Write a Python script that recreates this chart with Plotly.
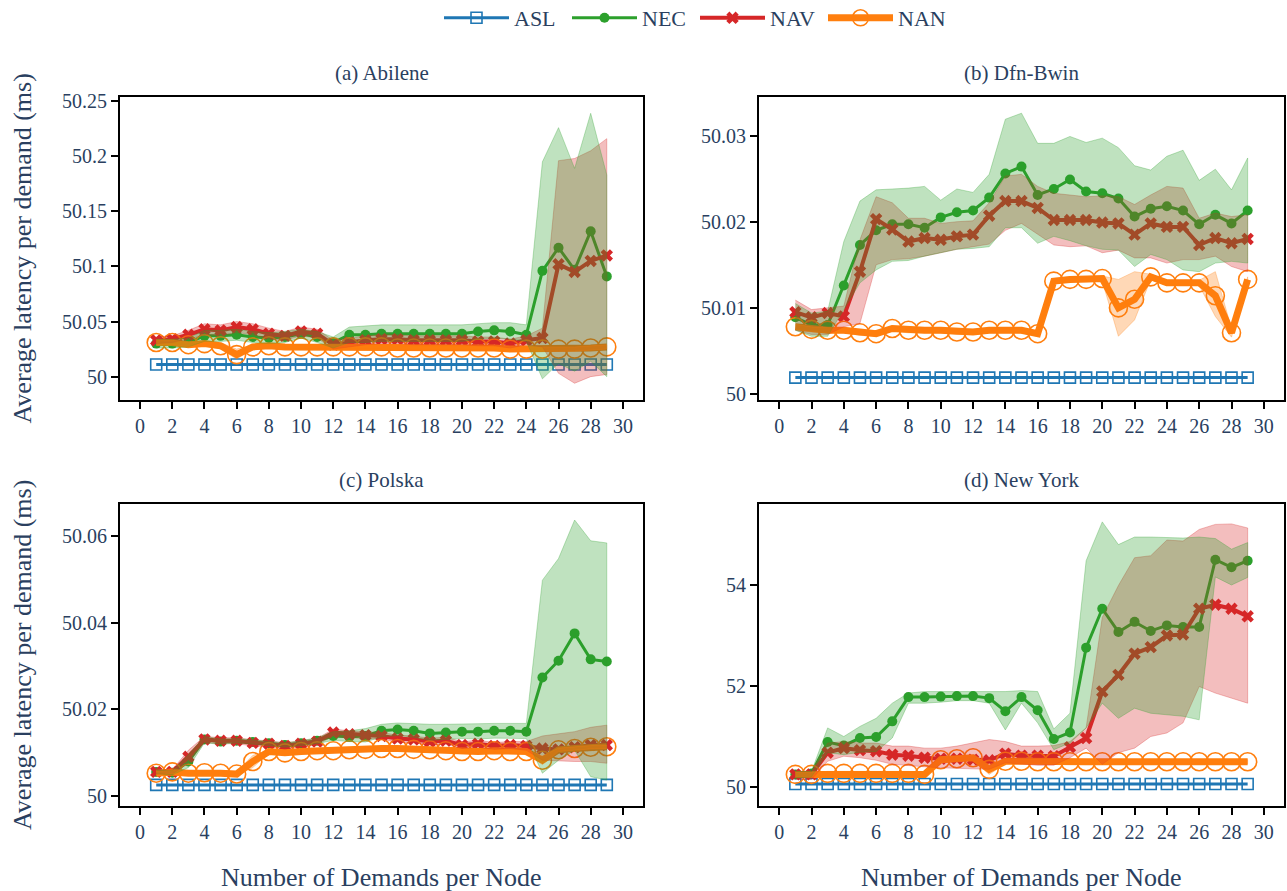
import plotly.graph_objects as go

# ---------------------------------------------------------------- data
X = list(range(1, 30))
X_TICKS = list(range(0, 31, 2))
X_TICK_TEXT = [str(v) for v in X_TICKS]

SERIES = ["ASL", "NEC", "NAV", "NAN"]
COLORS = {"ASL": "#1f77b4", "NEC": "#2ca02c", "NAV": "#d62728", "NAN": "#ff7f0e"}
BAND_RGB = {"NEC": "44,160,44", "NAV": "214,39,40", "NAN": "255,127,14"}

PANEL_TITLES = ["(a) Abilene", "(b) Dfn-Bwin", "(c) Polska", "(d) New York"]

# (a) Abilene
ABL_Y_TICKS = [50, 50.05, 50.1, 50.15, 50.2, 50.25]
ABL_Y_TEXT = ["50", "50.05", "50.1", "50.15", "50.2", "50.25"]
ABL_ASL = [50.011, 50.011, 50.011, 50.011, 50.011, 50.011, 50.011, 50.011, 50.011, 50.011,
           50.011, 50.011, 50.011, 50.011, 50.011, 50.011, 50.011, 50.011, 50.011, 50.011,
           50.011, 50.011, 50.011, 50.011, 50.011, 50.011, 50.011, 50.011, 50.011]
ABL_NEC = [50.030, 50.030, 50.031, 50.037, 50.037, 50.038, 50.036, 50.035, 50.036, 50.039,
           50.036, 50.031, 50.038, 50.038, 50.039, 50.039, 50.039, 50.039, 50.039, 50.039,
           50.041, 50.042, 50.041, 50.038, 50.096, 50.117, 50.097, 50.132, 50.091]
ABL_NEC_HI = [50.034, 50.034, 50.035, 50.042, 50.042, 50.043, 50.041, 50.040, 50.041, 50.043,
              50.041, 50.036, 50.045, 50.046, 50.047, 50.047, 50.047, 50.047, 50.047, 50.047,
              50.048, 50.049, 50.049, 50.047, 50.195, 50.226, 50.189, 50.239, 50.183]
ABL_NEC_LO = [50.026, 50.026, 50.027, 50.032, 50.032, 50.033, 50.031, 50.030, 50.031, 50.035,
              50.031, 50.026, 50.031, 50.031, 50.032, 50.032, 50.032, 50.032, 50.032, 50.032,
              50.034, 50.035, 50.034, 50.032, 49.998, 50.012, 50.005, 50.014, 50.000]
ABL_NAV = [50.033, 50.034, 50.038, 50.043, 50.042, 50.045, 50.043, 50.039, 50.037, 50.041,
           50.039, 50.029, 50.031, 50.033, 50.034, 50.034, 50.033, 50.033, 50.033, 50.033,
           50.032, 50.032, 50.030, 50.033, 50.035, 50.102, 50.095, 50.105, 50.110]
ABL_NAV_HI = [50.036, 50.037, 50.042, 50.048, 50.047, 50.050, 50.048, 50.044, 50.041, 50.045,
              50.043, 50.033, 50.035, 50.037, 50.038, 50.038, 50.037, 50.037, 50.037, 50.037,
              50.036, 50.036, 50.034, 50.037, 50.044, 50.196, 50.198, 50.205, 50.216]
ABL_NAV_LO = [50.030, 50.031, 50.034, 50.038, 50.037, 50.040, 50.038, 50.034, 50.033, 50.037,
              50.035, 50.025, 50.027, 50.029, 50.030, 50.030, 50.029, 50.029, 50.029, 50.029,
              50.028, 50.028, 50.026, 50.029, 50.027, 50.003, 49.994, 50.000, 50.002]
ABL_NAN = [50.031, 50.031, 50.029, 50.030, 50.028, 50.020, 50.027, 50.028, 50.027, 50.027,
           50.027, 50.027, 50.027, 50.027, 50.027, 50.026, 50.026, 50.026, 50.026, 50.026,
           50.026, 50.026, 50.025, 50.025, 50.025, 50.025, 50.025, 50.026, 50.027]
ABL_NAN_HI = [50.033, 50.033, 50.031, 50.032, 50.031, 50.025, 50.029, 50.030, 50.029, 50.029,
              50.029, 50.029, 50.029, 50.029, 50.029, 50.028, 50.028, 50.028, 50.028, 50.028,
              50.028, 50.028, 50.027, 50.027, 50.027, 50.027, 50.027, 50.028, 50.029]
ABL_NAN_LO = [50.029, 50.029, 50.027, 50.028, 50.025, 50.016, 50.025, 50.026, 50.025, 50.025,
              50.025, 50.025, 50.025, 50.025, 50.025, 50.024, 50.024, 50.024, 50.024, 50.024,
              50.024, 50.024, 50.023, 50.023, 50.023, 50.023, 50.023, 50.024, 50.025]

# (b) Dfn-Bwin
DFN_Y_TICKS = [50, 50.01, 50.02, 50.03]
DFN_Y_TEXT = ["50", "50.01", "50.02", "50.03"]
DFN_ASL = [50.0019, 50.0019, 50.0019, 50.0019, 50.0019, 50.0019, 50.0019, 50.0019, 50.0019, 50.0019,
           50.0019, 50.0019, 50.0019, 50.0019, 50.0019, 50.0019, 50.0019, 50.0019, 50.0019, 50.0019,
           50.0019, 50.0019, 50.0019, 50.0019, 50.0019, 50.0019, 50.0019, 50.0019, 50.0019]
DFN_NEC = [50.0089, 50.0080, 50.0080, 50.0126, 50.0173, 50.0190, 50.0197, 50.0197, 50.0193, 50.0205,
           50.0211, 50.0213, 50.0228, 50.0256, 50.0264, 50.0231, 50.0238, 50.0249, 50.0235, 50.0233,
           50.0227, 50.0206, 50.0215, 50.0218, 50.0213, 50.0197, 50.0208, 50.0198, 50.0213]
DFN_NEC_HI = [50.0105, 50.0094, 50.0096, 50.0177, 50.0224, 50.0237, 50.0238, 50.0239, 50.0241, 50.0225,
              50.0238, 50.0234, 50.0255, 50.0319, 50.0326, 50.0291, 50.0291, 50.0299, 50.0292, 50.0297,
              50.0286, 50.0265, 50.0260, 50.0276, 50.0283, 50.0248, 50.0261, 50.0237, 50.0274]
DFN_NEC_LO = [50.0074, 50.0067, 50.0067, 50.0098, 50.0129, 50.0144, 50.0154, 50.0155, 50.0160, 50.0164,
              50.0168, 50.0169, 50.0171, 50.0193, 50.0193, 50.0175, 50.0183, 50.0178, 50.0172, 50.0168,
              50.0167, 50.0148, 50.0162, 50.0156, 50.0144, 50.0142, 50.0152, 50.0154, 50.0152]
DFN_NAV = [50.0095, 50.0089, 50.0094, 50.0090, 50.0142, 50.0203, 50.0191, 50.0177, 50.0181, 50.0179,
           50.0183, 50.0185, 50.0207, 50.0224, 50.0224, 50.0216, 50.0202, 50.0202, 50.0202, 50.0199,
           50.0198, 50.0185, 50.0198, 50.0194, 50.0194, 50.0173, 50.0181, 50.0175, 50.0180]
DFN_NAV_HI = [50.0109, 50.0098, 50.0100, 50.0102, 50.0179, 50.0229, 50.0222, 50.0204, 50.0204, 50.0198,
              50.0200, 50.0201, 50.0222, 50.0253, 50.0255, 50.0241, 50.0233, 50.0231, 50.0229, 50.0230,
              50.0229, 50.0220, 50.0231, 50.0241, 50.0239, 50.0204, 50.0210, 50.0206, 50.0208]
DFN_NAV_LO = [50.0074, 50.0069, 50.0069, 50.0078, 50.0082, 50.0150, 50.0156, 50.0157, 50.0160, 50.0164,
              50.0168, 50.0171, 50.0174, 50.0190, 50.0198, 50.0185, 50.0173, 50.0171, 50.0172, 50.0164,
              50.0167, 50.0158, 50.0158, 50.0152, 50.0156, 50.0156, 50.0160, 50.0148, 50.0142]
DFN_NAN = [50.0078, 50.0075, 50.0074, 50.0074, 50.0071, 50.0070, 50.0076, 50.0074, 50.0074, 50.0074,
           50.0072, 50.0072, 50.0074, 50.0074, 50.0074, 50.0070, 50.0131, 50.0133, 50.0133, 50.0134,
           50.0100, 50.0110, 50.0136, 50.0129, 50.0129, 50.0129, 50.0114, 50.0071, 50.0133]
DFN_NAN_HI = [50.0081, 50.0078, 50.0077, 50.0077, 50.0074, 50.0073, 50.0079, 50.0077, 50.0077, 50.0077,
              50.0075, 50.0075, 50.0077, 50.0077, 50.0077, 50.0073, 50.0134, 50.0136, 50.0136, 50.0137,
              50.0133, 50.0142, 50.0139, 50.0132, 50.0132, 50.0132, 50.0142, 50.0076, 50.0136]
DFN_NAN_LO = [50.0075, 50.0072, 50.0071, 50.0071, 50.0068, 50.0067, 50.0073, 50.0071, 50.0071, 50.0071,
              50.0069, 50.0069, 50.0071, 50.0071, 50.0071, 50.0067, 50.0128, 50.0130, 50.0130, 50.0131,
              50.0067, 50.0086, 50.0133, 50.0126, 50.0126, 50.0126, 50.0090, 50.0066, 50.0130]

# (c) Polska
POL_Y_TICKS = [50, 50.02, 50.04, 50.06]
POL_Y_TEXT = ["50", "50.02", "50.04", "50.06"]
POL_ASL = [50.0025, 50.0025, 50.0025, 50.0025, 50.0025, 50.0025, 50.0025, 50.0025, 50.0025, 50.0025,
           50.0025, 50.0025, 50.0025, 50.0025, 50.0025, 50.0025, 50.0025, 50.0025, 50.0025, 50.0025,
           50.0025, 50.0025, 50.0025, 50.0025, 50.0025, 50.0025, 50.0025, 50.0025, 50.0025]
POL_NEC = [50.0055, 50.0053, 50.0079, 50.0130, 50.0125, 50.0127, 50.0124, 50.0121, 50.0117, 50.0121,
           50.0127, 50.0138, 50.0136, 50.0138, 50.0150, 50.0153, 50.0150, 50.0144, 50.0146, 50.0148,
           50.0148, 50.0150, 50.0150, 50.0148, 50.0273, 50.0312, 50.0375, 50.0315, 50.0310]
POL_NEC_HI = [50.0060, 50.0058, 50.0095, 50.0137, 50.0131, 50.0132, 50.0129, 50.0126, 50.0122, 50.0127,
              50.0134, 50.0148, 50.0150, 50.0155, 50.0165, 50.0168, 50.0166, 50.0165, 50.0165, 50.0166,
              50.0166, 50.0167, 50.0167, 50.0167, 50.0498, 50.0548, 50.0637, 50.0589, 50.0584]
POL_NEC_LO = [50.0050, 50.0048, 50.0065, 50.0122, 50.0119, 50.0122, 50.0119, 50.0116, 50.0112, 50.0116,
              50.0120, 50.0128, 50.0125, 50.0124, 50.0136, 50.0139, 50.0135, 50.0128, 50.0130, 50.0132,
              50.0131, 50.0133, 50.0133, 50.0132, 50.0052, 50.0082, 50.0105, 50.0044, 50.0036]
POL_NAV = [50.0055, 50.0055, 50.0090, 50.0130, 50.0127, 50.0127, 50.0122, 50.0120, 50.0115, 50.0120,
           50.0125, 50.0146, 50.0142, 50.0140, 50.0138, 50.0132, 50.0130, 50.0125, 50.0127, 50.0117,
           50.0120, 50.0115, 50.0117, 50.0115, 50.0109, 50.0107, 50.0112, 50.0117, 50.0117]
POL_NAV_HI = [50.0060, 50.0060, 50.0105, 50.0137, 50.0134, 50.0134, 50.0129, 50.0127, 50.0122, 50.0127,
              50.0132, 50.0154, 50.0150, 50.0148, 50.0146, 50.0140, 50.0138, 50.0133, 50.0135, 50.0125,
              50.0128, 50.0123, 50.0125, 50.0125, 50.0138, 50.0143, 50.0148, 50.0158, 50.0163]
POL_NAV_LO = [50.0050, 50.0050, 50.0075, 50.0123, 50.0120, 50.0120, 50.0115, 50.0113, 50.0108, 50.0113,
              50.0118, 50.0138, 50.0134, 50.0132, 50.0130, 50.0124, 50.0122, 50.0117, 50.0119, 50.0109,
              50.0112, 50.0107, 50.0109, 50.0105, 50.0082, 50.0080, 50.0079, 50.0079, 50.0075]
POL_NAN = [50.0052, 50.0055, 50.0052, 50.0053, 50.0052, 50.0050, 50.0079, 50.0102, 50.0099, 50.0102,
           50.0104, 50.0104, 50.0106, 50.0107, 50.0109, 50.0109, 50.0107, 50.0106, 50.0104, 50.0102,
           50.0102, 50.0104, 50.0102, 50.0102, 50.0082, 50.0106, 50.0109, 50.0112, 50.0113]
POL_NAN_HI = [50.0056, 50.0059, 50.0056, 50.0057, 50.0056, 50.0055, 50.0093, 50.0106, 50.0103, 50.0106,
              50.0108, 50.0108, 50.0110, 50.0111, 50.0113, 50.0113, 50.0111, 50.0110, 50.0108, 50.0106,
              50.0106, 50.0108, 50.0106, 50.0106, 50.0092, 50.0110, 50.0113, 50.0116, 50.0117]
POL_NAN_LO = [50.0048, 50.0051, 50.0048, 50.0049, 50.0048, 50.0046, 50.0065, 50.0098, 50.0095, 50.0098,
              50.0100, 50.0100, 50.0102, 50.0103, 50.0105, 50.0105, 50.0103, 50.0102, 50.0100, 50.0098,
              50.0098, 50.0100, 50.0098, 50.0098, 50.0072, 50.0102, 50.0105, 50.0108, 50.0109]

# (d) New York
NY_Y_TICKS = [50, 52, 54]
NY_Y_TEXT = ["50", "52", "54"]
NY_ASL = [50.06, 50.06, 50.06, 50.06, 50.06, 50.06, 50.06, 50.06, 50.06, 50.06,
          50.06, 50.06, 50.06, 50.06, 50.06, 50.06, 50.06, 50.06, 50.06, 50.06,
          50.06, 50.06, 50.06, 50.06, 50.06, 50.06, 50.06, 50.06, 50.06]
NY_NEC = [50.25, 50.27, 50.89, 50.82, 50.97, 50.99, 51.30, 51.78, 51.78, 51.79,
          51.80, 51.80, 51.76, 51.50, 51.78, 51.52, 50.95, 51.08, 52.76, 53.53,
          53.07, 53.27, 53.09, 53.20, 53.17, 53.17, 54.50, 54.35, 54.48]
NY_NEC_HI = [50.31, 50.31, 51.17, 51.00, 51.20, 51.36, 51.66, 51.86, 51.89, 51.89,
             51.90, 51.89, 51.89, 51.89, 51.91, 51.89, 51.15, 51.46, 54.48, 55.25,
             54.80, 54.95, 54.95, 54.94, 54.93, 54.95, 54.92, 54.71, 54.84]
NY_NEC_LO = [50.18, 50.20, 50.68, 50.64, 50.69, 50.70, 50.97, 51.66, 51.66, 51.68,
             51.71, 51.71, 51.66, 51.13, 51.66, 51.27, 50.74, 50.87, 51.17, 51.66,
             51.36, 51.56, 51.46, 51.43, 51.40, 51.33, 54.16, 54.00, 54.15]
NY_NAV = [50.25, 50.25, 50.68, 50.77, 50.73, 50.71, 50.64, 50.62, 50.58, 50.56,
          50.56, 50.54, 50.53, 50.66, 50.62, 50.62, 50.61, 50.79, 50.97, 51.89,
          52.22, 52.64, 52.77, 53.00, 53.02, 53.53, 53.61, 53.53, 53.38]
NY_NAV_HI = [50.31, 50.31, 50.87, 50.90, 50.87, 50.87, 50.81, 50.81, 50.77, 50.77,
             50.81, 50.87, 50.94, 50.90, 50.81, 50.81, 50.82, 50.90, 51.17, 53.36,
             53.99, 54.54, 54.58, 54.89, 54.87, 55.10, 55.20, 55.21, 55.13]
NY_NAV_LO = [50.15, 50.15, 50.51, 50.61, 50.58, 50.53, 50.45, 50.43, 50.40, 50.38,
             50.36, 50.36, 50.35, 50.48, 50.45, 50.43, 50.43, 50.58, 50.77, 50.45,
             50.68, 50.77, 51.00, 51.07, 51.27, 51.99, 51.86, 51.76, 51.66]
NY_NAN = [50.25, 50.25, 50.27, 50.27, 50.27, 50.27, 50.27, 50.27, 50.25, 50.54,
          50.56, 50.58, 50.35, 50.51, 50.51, 50.50, 50.50, 50.50, 50.50, 50.50,
          50.50, 50.50, 50.50, 50.50, 50.50, 50.50, 50.50, 50.50, 50.50]
NY_NAN_HI = [50.29, 50.29, 50.31, 50.31, 50.31, 50.31, 50.31, 50.31, 50.29, 50.60,
             50.61, 50.63, 50.45, 50.56, 50.55, 50.54, 50.54, 50.54, 50.54, 50.54,
             50.54, 50.54, 50.54, 50.54, 50.54, 50.54, 50.54, 50.54, 50.54]
NY_NAN_LO = [50.21, 50.21, 50.23, 50.23, 50.23, 50.23, 50.23, 50.23, 50.21, 50.48,
             50.51, 50.53, 50.25, 50.46, 50.47, 50.46, 50.46, 50.46, 50.46, 50.46,
             50.46, 50.46, 50.46, 50.46, 50.46, 50.46, 50.46, 50.46, 50.46]

# ---------------------------------------------------------------- panel setup
PANELS = [
    dict(asl=ABL_ASL, NEC=(ABL_NEC, ABL_NEC_LO, ABL_NEC_HI), NAV=(ABL_NAV, ABL_NAV_LO, ABL_NAV_HI),
         NAN=(ABL_NAN, ABL_NAN_LO, ABL_NAN_HI), ticks=ABL_Y_TICKS, text=ABL_Y_TEXT,
         yrange=[49.9788, 50.2538]),
    dict(asl=DFN_ASL, NEC=(DFN_NEC, DFN_NEC_LO, DFN_NEC_HI), NAV=(DFN_NAV, DFN_NAV_LO, DFN_NAV_HI),
         NAN=(DFN_NAN, DFN_NAN_LO, DFN_NAN_HI), ticks=DFN_Y_TICKS, text=DFN_Y_TEXT,
         yrange=[49.9993, 50.03448]),
    dict(asl=POL_ASL, NEC=(POL_NEC, POL_NEC_LO, POL_NEC_HI), NAV=(POL_NAV, POL_NAV_LO, POL_NAV_HI),
         NAN=(POL_NAN, POL_NAN_LO, POL_NAN_HI), ticks=POL_Y_TICKS, text=POL_Y_TEXT,
         yrange=[49.99762, 50.0674]),
    dict(asl=NY_ASL, NEC=(NY_NEC, NY_NEC_LO, NY_NEC_HI), NAV=(NY_NAV, NY_NAV_LO, NY_NAV_HI),
         NAN=(NY_NAN, NY_NAN_LO, NY_NAN_HI), ticks=NY_Y_TICKS, text=NY_Y_TEXT,
         yrange=[49.624, 55.604]),
]

W, H = 1287, 891
COL_PX = [(120, 643), (759, 1284)]
ROW_PX = [(97, 400), (504, 806)]
FONT = "Liberation Serif, Times New Roman, Times, serif"
TEXT_COLOR = "#2a3f5f"

LINE_STYLE = {
    "ASL": dict(line=dict(color=COLORS["ASL"], width=3),
                marker=dict(symbol="square-open", size=11, color=COLORS["ASL"],
                            line=dict(width=1.6, color=COLORS["ASL"]))),
    "NEC": dict(line=dict(color=COLORS["NEC"], width=3),
                marker=dict(symbol="circle", size=10, color=COLORS["NEC"], line=dict(width=0))),
    "NAV": dict(line=dict(color=COLORS["NAV"], width=4),
                marker=dict(symbol="x", size=11, color=COLORS["NAV"], line=dict(width=0))),
    "NAN": dict(line=dict(color=COLORS["NAN"], width=7),
                marker=dict(symbol="circle-open", size=18, color=COLORS["NAN"],
                            line=dict(width=1.6, color=COLORS["NAN"]))),
}

fig = go.Figure()

for i, p in enumerate(PANELS):
    sfx = "" if i == 0 else str(i + 1)
    xa, ya = "x" + sfx, "y" + sfx
    # mean curves first
    for name in SERIES:
        y = p["asl"] if name == "ASL" else p[name][0]
        fig.add_trace(go.Scatter(
            x=X, y=y, mode="lines+markers", name=name, legendgroup=name,
            showlegend=(i == 0), xaxis=xa, yaxis=ya, **LINE_STYLE[name]))
    # shaded spread bands on top
    for name in ["NAV", "NEC", "NAN"]:
        _, lo, hi = p[name]
        rgb = BAND_RGB[name]
        fig.add_trace(go.Scatter(
            x=X + X[::-1], y=hi + lo[::-1], mode="lines", fill="toself",
            fillcolor=f"rgba({rgb},0.3)", line=dict(color=f"rgba({rgb},0.3)", width=1),
            hoverinfo="skip", showlegend=False, legendgroup=name, xaxis=xa, yaxis=ya))

axis_common = dict(showline=True, linecolor="black", linewidth=2, mirror=True,
                   ticks="outside", ticklen=7, tickwidth=1.5, tickcolor="black",
                   showgrid=False, zeroline=False,
                   tickfont=dict(family=FONT, size=20, color=TEXT_COLOR))

layout = dict(width=W, height=H, margin=dict(l=0, r=0, t=0, b=0, autoexpand=False),
              paper_bgcolor="white", plot_bgcolor="white",
              font=dict(family=FONT, color=TEXT_COLOR, size=20))

annotations = []
for i, p in enumerate(PANELS):
    r, c = divmod(i, 2)
    sfx = "" if i == 0 else str(i + 1)
    x0, x1 = COL_PX[c]
    y0, y1 = ROW_PX[r]
    layout["xaxis" + sfx] = dict(axis_common, domain=[x0 / W, x1 / W], range=[-1.25, 31.25],
                                 tickvals=X_TICKS, ticktext=X_TICK_TEXT,
                                 anchor="y" + sfx)
    layout["yaxis" + sfx] = dict(axis_common, domain=[1 - y1 / H, 1 - y0 / H], range=p["yrange"],
                                 tickvals=p["ticks"], ticktext=p["text"],
                                 anchor="x" + sfx)
    annotations.append(dict(text=PANEL_TITLES[i], x=(x0 + x1) / 2 / W, y=1 - (y0 - 24) / H,
                            xref="paper", yref="paper", showarrow=False,
                            xanchor="center", yanchor="middle",
                            font=dict(family=FONT, size=21, color=TEXT_COLOR)))

for r in range(2):
    y0, y1 = ROW_PX[r]
    annotations.append(dict(text="Average latency per demand (ms)", x=22 / W, y=1 - (y0 + y1) / 2 / H,
                            xref="paper", yref="paper", showarrow=False, textangle=-90,
                            xanchor="center", yanchor="middle",
                            font=dict(family=FONT, size=26, color=TEXT_COLOR)))
for c in range(2):
    x0, x1 = COL_PX[c]
    annotations.append(dict(text="Number of Demands per Node", x=(x0 + x1) / 2 / W, y=1 - 877 / H,
                            xref="paper", yref="paper", showarrow=False,
                            xanchor="center", yanchor="middle",
                            font=dict(family=FONT, size=26, color=TEXT_COLOR)))

layout["annotations"] = annotations
layout["legend"] = dict(orientation="h", x=695 / W, xanchor="center", y=1 + 3 / H, yanchor="top",
                        itemwidth=65, entrywidth=48, entrywidthmode="pixels",
                        bgcolor="rgba(0,0,0,0)",
                        font=dict(family=FONT, size=22, color=TEXT_COLOR))
layout["showlegend"] = True
fig.update_layout(**layout)

fig.write_html("out.html")
